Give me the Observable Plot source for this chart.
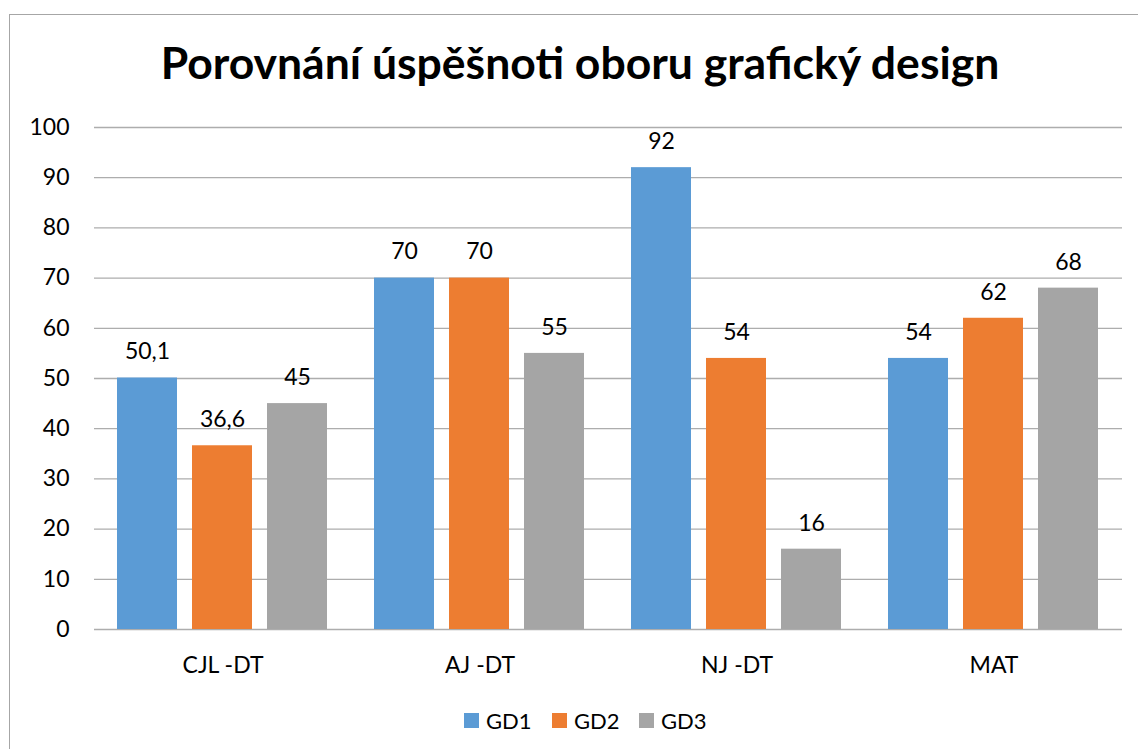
<!DOCTYPE html>
<html>
<head>
<meta charset="utf-8">
<script src="https://cdn.jsdelivr.net/npm/d3@7"></script>
<script src="https://cdn.jsdelivr.net/npm/@observablehq/plot@0.6"></script>
<style>
  html, body { margin: 0; padding: 0; background: #fff; overflow: hidden; width: 1138px; height: 749px; }
  body { position: relative; font-family: Lato, "Open Sans", sans-serif; color: #000; }
  #frame { position: absolute; left: 9px; top: 14px; width: 1400px; height: 1000px; border-left: 1.5px solid #a6a6a6; border-top: 1.5px solid #a6a6a6; box-sizing: border-box; pointer-events: none; }
  #title { position: relative; height: 100px; }
  #title span { position: absolute; left: 0; width: 1160px; text-align: center; top: 40px; font-weight: 700; font-size: 44.5px; line-height: 1; white-space: nowrap; }
  #chart { position: relative; height: 590px; }
  #legend { position: relative; height: 59px; }
  .item { position: absolute; top: 17px; display: flex; align-items: center; font-size: 22px; }
  .sw { width: 15px; height: 15px; margin-right: 7px; }
</style>
</head>
<body>
<div id="frame"></div>
<div id="title"><span>Porovnání úspěšnoti oboru grafický design</span></div>
<div id="chart"></div>
<div id="legend"></div>
<script>
const categories = ["CJL -DT", "AJ -DT", "NJ -DT", "MAT"];
const series = ["GD1", "GD2", "GD3"];
const colors = ["#5b9bd5", "#ed7d31", "#a5a5a5"];
const gd1 = [50.1, 70, 92, 54];
const gd2 = [36.6, 70, 54, 62];
const gd3 = [45, 55, 16, 68];
const yTicks = [0, 10, 20, 30, 40, 50, 60, 70, 80, 90, 100];

const values = [gd1, gd2, gd3];
const data = [];
categories.forEach((c, i) => series.forEach((s, j) => data.push({cat: c, series: s, value: values[j][i]})));
const fmt = v => String(v).replace(".", ",");

const chart = Plot.plot({
  width: 1138,
  height: 590,
  marginLeft: 92,
  marginRight: 15,
  marginTop: 27,
  marginBottom: 61,
  style: {fontFamily: "Lato, 'Open Sans', sans-serif", fontSize: "23px", color: "#000", background: "transparent"},
  fx: {domain: categories, padding: 0, label: null, axis: null},
  x: {domain: series, paddingInner: 0.197, paddingOuter: 0.294, axis: null},
  y: {domain: [0, 100], label: null},
  color: {domain: series, range: colors},
  marks: [
    Plot.ruleY(yTicks, {stroke: "#adadad", strokeWidth: 1.3}),
    Plot.barY(data, {fx: "cat", x: "series", y: "value", fill: "series"}),
    Plot.text(data, {fx: "cat", x: "series", y: "value", text: d => fmt(d.value), dy: -26, fontSize: 23, fill: "#000", lineAnchor: "middle"}),
    Plot.axisY({ticks: yTicks, tickSize: 0, tickPadding: 25, fontSize: 23, label: null, tickFormat: d => String(d)}),
    Plot.axisFx({anchor: "bottom", tickSize: 0, tickPadding: 27, fontSize: 23, label: null})
  ]
});
document.getElementById("chart").appendChild(chart);

const legend = document.getElementById("legend");
const lefts = [464, 552, 639];
series.forEach((s, i) => {
  const it = document.createElement("div");
  it.className = "item";
  it.style.left = lefts[i] + "px";
  const sw = document.createElement("div");
  sw.className = "sw";
  sw.style.background = colors[i];
  const t = document.createElement("span");
  t.textContent = s;
  it.appendChild(sw); it.appendChild(t);
  legend.appendChild(it);
});
</script>
</body>
</html>
